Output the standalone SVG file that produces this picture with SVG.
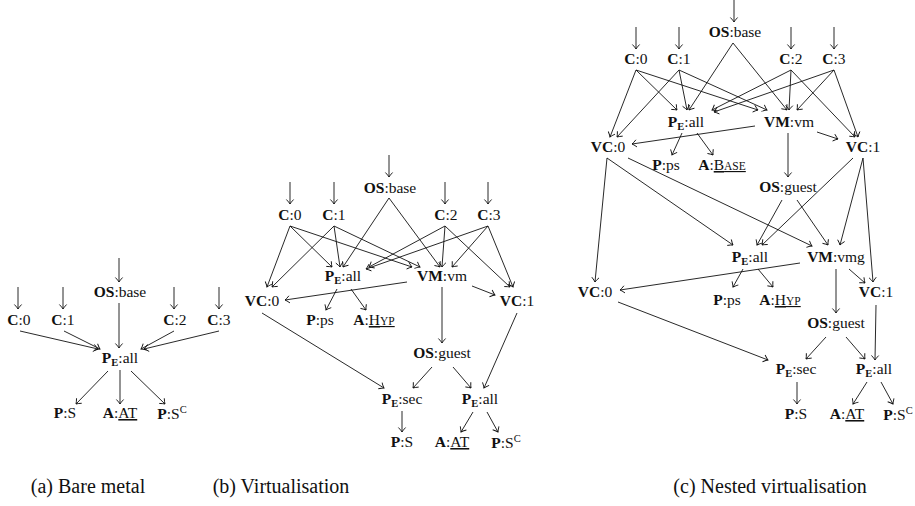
<svg xmlns="http://www.w3.org/2000/svg" width="915" height="506" viewBox="0 0 915 506" font-family="'Liberation Serif', 'DejaVu Serif', serif">
<defs>
<style>
text{font-family:"Liberation Serif","DejaVu Serif",serif}
.n{font-size:15.5px;text-anchor:middle;fill:#111}
.b{font-weight:bold}
.s{font-size:10.5px;font-weight:bold}
.sp{font-size:10.5px}
.sc{font-size:11.5px}
.u{text-decoration:underline}
.cap{font-size:20px;text-anchor:middle;fill:#111}
.e line{stroke:#111;stroke-width:0.9;fill:none;marker-end:url(#ah)}
</style>
<marker id="ah" viewBox="-6 -5 7 10" markerWidth="7" markerHeight="10" refX="0" refY="0" orient="auto" markerUnits="userSpaceOnUse">
<path d="M-4.5,-3.6 Q-1.5,-0.8 0,0 Q-1.5,0.8 -4.5,3.6" fill="none" stroke="#111" stroke-width="0.9"/>
</marker>
</defs>
<rect width="915" height="506" fill="#fff"/>

<g id="connectors" class="e">
<!-- panel a -->
<line x1="119" y1="258" x2="119" y2="282"/>
<line x1="18" y1="287" x2="18" y2="309"/>
<line x1="63" y1="287" x2="63" y2="309"/>
<line x1="174" y1="287" x2="174" y2="309"/>
<line x1="219" y1="287" x2="219" y2="309"/>
<line x1="20" y1="331" x2="98" y2="349"/>
<line x1="64" y1="331" x2="100" y2="349"/>
<line x1="119" y1="303" x2="119" y2="348"/>
<line x1="174" y1="331" x2="141" y2="349"/>
<line x1="219" y1="331" x2="144" y2="349"/>
<line x1="108" y1="371" x2="76" y2="404"/>
<line x1="120" y1="370" x2="120" y2="404"/>
<line x1="131" y1="371" x2="165" y2="404"/>
<!-- panel b -->
<line x1="389" y1="155" x2="389" y2="177"/>
<line x1="290" y1="182" x2="290" y2="204"/>
<line x1="334" y1="182" x2="334" y2="204"/>
<line x1="445" y1="182" x2="445" y2="204"/>
<line x1="488" y1="182" x2="488" y2="204"/>
<line x1="290" y1="226" x2="267" y2="287"/>
<line x1="290" y1="226" x2="332" y2="267"/>
<line x1="290" y1="226" x2="412" y2="267"/>
<line x1="334" y1="226" x2="272" y2="287"/>
<line x1="334" y1="226" x2="340" y2="267"/>
<line x1="334" y1="226" x2="420" y2="267"/>
<line x1="389" y1="198" x2="343" y2="267"/>
<line x1="389" y1="198" x2="440" y2="267"/>
<line x1="445" y1="226" x2="369" y2="267"/>
<line x1="445" y1="226" x2="442" y2="267"/>
<line x1="445" y1="226" x2="510" y2="287"/>
<line x1="488" y1="226" x2="366" y2="269"/>
<line x1="488" y1="226" x2="452" y2="267"/>
<line x1="488" y1="226" x2="513" y2="287"/>
<line x1="407" y1="282" x2="285" y2="300"/>
<line x1="472" y1="286" x2="495" y2="295"/>
<line x1="442" y1="287" x2="442" y2="343"/>
<line x1="337" y1="289" x2="326" y2="310"/>
<line x1="351" y1="289" x2="366" y2="310"/>
<line x1="262" y1="313" x2="384" y2="388"/>
<line x1="517" y1="313" x2="484" y2="388"/>
<line x1="432" y1="367" x2="413" y2="388"/>
<line x1="453" y1="367" x2="471" y2="388"/>
<line x1="402" y1="411" x2="402" y2="432"/>
<line x1="473" y1="412" x2="461" y2="432"/>
<line x1="487" y1="412" x2="498" y2="432"/>
<!-- panel c -->
<line x1="734" y1="0" x2="734" y2="22"/>
<line x1="636" y1="27" x2="636" y2="49"/>
<line x1="679" y1="27" x2="679" y2="49"/>
<line x1="791" y1="27" x2="791" y2="49"/>
<line x1="834" y1="27" x2="834" y2="49"/>
<line x1="636" y1="70" x2="610" y2="137"/>
<line x1="636" y1="70" x2="677" y2="110"/>
<line x1="636" y1="70" x2="758" y2="110"/>
<line x1="679" y1="70" x2="617" y2="137"/>
<line x1="679" y1="70" x2="687" y2="110"/>
<line x1="679" y1="70" x2="767" y2="110"/>
<line x1="733" y1="43" x2="689" y2="110"/>
<line x1="733" y1="43" x2="787" y2="110"/>
<line x1="791" y1="70" x2="712" y2="110"/>
<line x1="791" y1="70" x2="789" y2="110"/>
<line x1="791" y1="70" x2="855" y2="137"/>
<line x1="834" y1="70" x2="714" y2="112"/>
<line x1="834" y1="70" x2="797" y2="110"/>
<line x1="834" y1="70" x2="858" y2="137"/>
<line x1="755" y1="126" x2="632" y2="144"/>
<line x1="817" y1="132" x2="838" y2="139"/>
<line x1="788" y1="133" x2="788" y2="177"/>
<line x1="682" y1="133" x2="672" y2="155"/>
<line x1="697" y1="133" x2="713" y2="155"/>
<line x1="607" y1="158" x2="595" y2="282"/>
<line x1="607" y1="158" x2="733" y2="245"/>
<line x1="628" y1="158" x2="812" y2="246"/>
<line x1="782" y1="200" x2="757" y2="245"/>
<line x1="797" y1="200" x2="828" y2="245"/>
<line x1="853" y1="158" x2="762" y2="245"/>
<line x1="863" y1="158" x2="840" y2="245"/>
<line x1="863" y1="158" x2="873" y2="282"/>
<line x1="800" y1="263" x2="620" y2="290"/>
<line x1="849" y1="269" x2="865" y2="283"/>
<line x1="743" y1="269" x2="733" y2="287"/>
<line x1="758" y1="269" x2="773" y2="287"/>
<line x1="836" y1="269" x2="836" y2="313"/>
<line x1="618" y1="302" x2="768" y2="360"/>
<line x1="876" y1="305" x2="875" y2="360"/>
<line x1="826" y1="337" x2="806" y2="359"/>
<line x1="846" y1="337" x2="865" y2="359"/>
<line x1="797" y1="382" x2="797" y2="404"/>
<line x1="867" y1="382" x2="853" y2="404"/>
<line x1="881" y1="382" x2="893" y2="404"/>
</g>

<!-- panel a nodes -->
<g id="a_os"><text class="n" x="120" y="297"><tspan class="b">OS</tspan>:base</text></g>
<g id="a_c0"><text class="n" x="19" y="325"><tspan class="b">C</tspan>:0</text></g>
<g id="a_c1"><text class="n" x="63" y="325"><tspan class="b">C</tspan>:1</text></g>
<g id="a_c2"><text class="n" x="175" y="325"><tspan class="b">C</tspan>:2</text></g>
<g id="a_c3"><text class="n" x="219" y="325"><tspan class="b">C</tspan>:3</text></g>
<g id="a_pe"><text class="n" x="120" y="363"><tspan class="b">P</tspan><tspan class="s" dy="3">E</tspan><tspan dy="-3">:all</tspan></text></g>
<g id="a_ps"><text class="n" x="65" y="418"><tspan class="b">P</tspan>:S</text></g>
<g id="a_at"><text class="n" x="120" y="418"><tspan class="b">A</tspan>:<tspan class="u">AT</tspan></text></g>
<g id="a_psc"><text class="n" x="172" y="419"><tspan class="b">P</tspan>:S<tspan class="sp" dy="-6">C</tspan></text></g>

<!-- panel b nodes -->
<g id="b_os"><text class="n" x="390" y="193"><tspan class="b">OS</tspan>:base</text></g>
<g id="b_c0"><text class="n" x="290" y="220"><tspan class="b">C</tspan>:0</text></g>
<g id="b_c1"><text class="n" x="334" y="220"><tspan class="b">C</tspan>:1</text></g>
<g id="b_c2"><text class="n" x="446" y="220"><tspan class="b">C</tspan>:2</text></g>
<g id="b_c3"><text class="n" x="489" y="220"><tspan class="b">C</tspan>:3</text></g>
<g id="b_pe"><text class="n" x="343" y="281"><tspan class="b">P</tspan><tspan class="s" dy="3">E</tspan><tspan dy="-3">:all</tspan></text></g>
<g id="b_vm"><text class="n" x="442" y="281"><tspan class="b">VM</tspan>:vm</text></g>
<g id="b_vc0"><text class="n" x="262" y="306"><tspan class="b">VC</tspan>:0</text></g>
<g id="b_vc1"><text class="n" x="517" y="306"><tspan class="b">VC</tspan>:1</text></g>
<g id="b_pps"><text class="n" x="320" y="325"><tspan class="b">P</tspan>:ps</text></g>
<g id="b_ahyp"><text class="n" x="374" y="325"><tspan class="b">A</tspan>:<tspan class="u">H<tspan class="sc">YP</tspan></tspan></text></g>
<g id="b_osg"><text class="n" x="442" y="358"><tspan class="b">OS</tspan>:guest</text></g>
<g id="b_pesec"><text class="n" x="402" y="404"><tspan class="b">P</tspan><tspan class="s" dy="3">E</tspan><tspan dy="-3">:sec</tspan></text></g>
<g id="b_pe2"><text class="n" x="480" y="404"><tspan class="b">P</tspan><tspan class="s" dy="3">E</tspan><tspan dy="-3">:all</tspan></text></g>
<g id="b_ps"><text class="n" x="402" y="447"><tspan class="b">P</tspan>:S</text></g>
<g id="b_at"><text class="n" x="452" y="447"><tspan class="b">A</tspan>:<tspan class="u">AT</tspan></text></g>
<g id="b_psc"><text class="n" x="506" y="448"><tspan class="b">P</tspan>:S<tspan class="sp" dy="-6">C</tspan></text></g>

<!-- panel c nodes -->
<g id="c_os"><text class="n" x="735" y="37"><tspan class="b">OS</tspan>:base</text></g>
<g id="c_c0"><text class="n" x="636" y="64"><tspan class="b">C</tspan>:0</text></g>
<g id="c_c1"><text class="n" x="679" y="64"><tspan class="b">C</tspan>:1</text></g>
<g id="c_c2"><text class="n" x="791" y="64"><tspan class="b">C</tspan>:2</text></g>
<g id="c_c3"><text class="n" x="834" y="64"><tspan class="b">C</tspan>:3</text></g>
<g id="c_pe"><text class="n" x="686" y="127"><tspan class="b">P</tspan><tspan class="s" dy="3">E</tspan><tspan dy="-3">:all</tspan></text></g>
<g id="c_vm"><text class="n" x="789" y="127"><tspan class="b">VM</tspan>:vm</text></g>
<g id="c_vc0"><text class="n" x="608" y="152"><tspan class="b">VC</tspan>:0</text></g>
<g id="c_vc1"><text class="n" x="863" y="152"><tspan class="b">VC</tspan>:1</text></g>
<g id="c_pps"><text class="n" x="666" y="170"><tspan class="b">P</tspan>:ps</text></g>
<g id="c_abase"><text class="n" x="722" y="170"><tspan class="b">A</tspan>:<tspan class="u">B<tspan class="sc">ASE</tspan></tspan></text></g>
<g id="c_osg"><text class="n" x="788" y="192"><tspan class="b">OS</tspan>:guest</text></g>
<g id="c_pe2"><text class="n" x="750" y="262"><tspan class="b">P</tspan><tspan class="s" dy="3">E</tspan><tspan dy="-3">:all</tspan></text></g>
<g id="c_vmg"><text class="n" x="836" y="262"><tspan class="b">VM</tspan>:vmg</text></g>
<g id="c_vc0b"><text class="n" x="595" y="297"><tspan class="b">VC</tspan>:0</text></g>
<g id="c_vc1b"><text class="n" x="876" y="297"><tspan class="b">VC</tspan>:1</text></g>
<g id="c_pps2"><text class="n" x="727" y="305"><tspan class="b">P</tspan>:ps</text></g>
<g id="c_ahyp"><text class="n" x="780" y="305"><tspan class="b">A</tspan>:<tspan class="u">H<tspan class="sc">YP</tspan></tspan></text></g>
<g id="c_osg2"><text class="n" x="836" y="328"><tspan class="b">OS</tspan>:guest</text></g>
<g id="c_pesec"><text class="n" x="796" y="374"><tspan class="b">P</tspan><tspan class="s" dy="3">E</tspan><tspan dy="-3">:sec</tspan></text></g>
<g id="c_pe3"><text class="n" x="874" y="374"><tspan class="b">P</tspan><tspan class="s" dy="3">E</tspan><tspan dy="-3">:all</tspan></text></g>
<g id="c_ps"><text class="n" x="796" y="419"><tspan class="b">P</tspan>:S</text></g>
<g id="c_at"><text class="n" x="847" y="419"><tspan class="b">A</tspan>:<tspan class="u">AT</tspan></text></g>
<g id="c_psc"><text class="n" x="898" y="420"><tspan class="b">P</tspan>:S<tspan class="sp" dy="-6">C</tspan></text></g>

<!-- captions -->
<text class="cap" x="88" y="493">(a) Bare metal</text>
<text class="cap" x="281" y="493">(b) Virtualisation</text>
<text class="cap" x="770" y="493">(c) Nested virtualisation</text>
</svg>
